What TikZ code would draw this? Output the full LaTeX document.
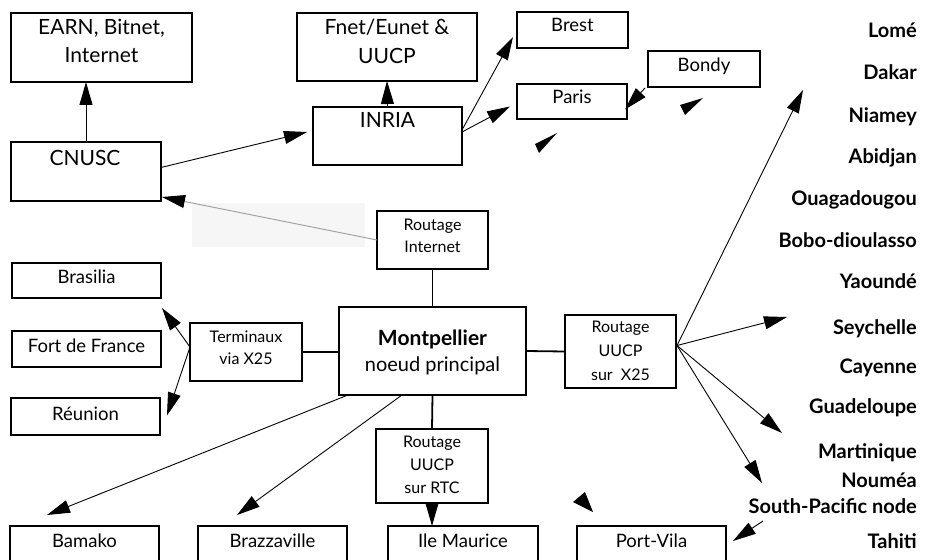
\documentclass[tikz,border=0pt]{standalone}
\usepackage{fontspec}
\setmainfont{Lato}
\usetikzlibrary{arrows.meta,calc}
\begin{document}
\begin{tikzpicture}[x=1pt,y=-1pt,
  box/.style={draw,line width=1.8pt,inner sep=0pt,outer sep=0pt},
  link/.style={line width=1.8pt},
  arr/.style={line width=0.9pt,-{Triangle[length=23pt,width=13pt]}},
  tL/.style={font=\fontsize{21}{25}\selectfont,anchor=base,inner sep=0pt},
  tM/.style={font=\fontsize{18.5}{22}\selectfont,anchor=base,inner sep=0pt},
  tS/.style={font=\fontsize{16}{19}\selectfont,anchor=base,inner sep=0pt},
  city/.style={font=\bfseries\fontsize{20}{24}\selectfont,anchor=base east,inner sep=0pt},
  head/.style={fill=black}
]
\useasboundingbox (0,0) rectangle (925,559);
\clip (0,0) rectangle (925,559);

% faint scan background
\fill[gray!7] (192,203) rectangle (365,247);

% boxes
\node[box,minimum width=181pt,minimum height=69pt] (earn) at (101.5,47.5) {};
\node[box,minimum width=180pt,minimum height=68pt] (fnet) at (387,47) {};
\node[box,minimum width=111pt,minimum height=36pt] (brest) at (572.5,30) {};
\node[box,minimum width=110pt,minimum height=35pt] (paris) at (572,101.5) {};
\node[box,minimum width=112pt,minimum height=36pt] (bondy) at (704,69) {};
\node[box,minimum width=149pt,minimum height=58pt] (inria) at (387.5,136) {};
\node[box,minimum width=150pt,minimum height=59pt] (cnusc) at (86,171.5) {};
\node[box,minimum width=111pt,minimum height=58pt] (rint) at (432.5,240) {};
\node[box,minimum width=187pt,minimum height=88pt] (mont) at (432.5,351) {};
\node[box,minimum width=111pt,minimum height=73pt] (uucp) at (620.5,351.5) {};
\node[box,minimum width=112pt,minimum height=58pt] (term) at (246,352) {};
\node[box,minimum width=149pt,minimum height=35pt] (brasilia) at (86.5,280.5) {};
\node[box,minimum width=149pt,minimum height=36pt] (fdf) at (86.5,349) {};
\node[box,minimum width=149pt,minimum height=37pt] (reunion) at (85.5,416.5) {};
\node[box,minimum width=112pt,minimum height=74pt] (rtc) at (432,466) {};
\node[box,minimum width=149pt,minimum height=50pt] (bamako) at (84.5,551) {};
\node[box,minimum width=149pt,minimum height=50pt] (brazza) at (272.5,551) {};
\node[box,minimum width=150pt,minimum height=50pt] (ilem) at (463,551) {};
\node[box,minimum width=149pt,minimum height=50pt] (portvila) at (651.5,551) {};

% box texts
\node[tL] (earnA) at (101.5,35) {EARN, Bitnet,};
\node[tL] (earnB) at (101.5,63) {Internet};
\node[tL] (fnetA) at (387,35) {Fnet/Eunet \&};
\node[tL] (fnetB) at (387,64) {UUCP};
\node[tM] (brestT) at (572.5,32) {Brest};
\node[tM] (parisT) at (572,103) {Paris};
\node[tM] (bondyT) at (704,72) {Bondy};
\node[tL] (inriaT) at (387.5,128) {INRIA};
\node[tL] (cnuscT) at (85,165) {CNUSC};
\node[tS] (rintA) at (432.5,230) {Routage};
\node[tS] (rintB) at (432.5,252) {Internet};
\node[tL,font=\bfseries\fontsize{21}{25}\selectfont] (montA) at (432.5,345) {Montpellier};
\node[tL,font=\fontsize{20}{24}\selectfont] (montB) at (432.5,371) {noeud principal};
\node[tS] (uucpA) at (620.5,332) {Routage};
\node[tS] (uucpB) at (620.5,356) {UUCP};
\node[tS] (uucpC) at (620.5,380) {sur\ \ X25};
\node[tS] (termA) at (246,342) {Terminaux};
\node[tS] (termB) at (246,364) {via X25};
\node[tM] (brasiliaT) at (86.5,283) {Brasilia};
\node[tM] (fdfT) at (86.5,352) {Fort de France};
\node[tM] (reunionT) at (85.5,420) {Réunion};
\node[tS] (rtcA) at (432,447) {Routage};
\node[tS] (rtcB) at (432,470) {UUCP};
\node[tS] (rtcC) at (432,493) {sur RTC};
\node[tM] (bamakoT) at (84.5,547) {Bamako};
\node[tM] (brazzaT) at (272.5,547) {Brazzaville};
\node[tM] (ilemT) at (463,547) {Ile Maurice};
\node[tM] (portvilaT) at (651.5,547) {Port-Vila};

% city labels
\node[city] (lome) at (917,38) {Lomé};
\node[city] (dakar) at (917,80) {Dakar};
\node[city] (niamey) at (917,122) {Niamey};
\node[city] (abidjan) at (917,163) {Abidjan};
\node[city] (ouaga) at (917,205) {Ouagadougou};
\node[city] (bobo) at (917,247) {Bobo-dioulasso};
\node[city] (yaounde) at (917,288) {Yaoundé};
\node[city] (seychelle) at (917,334) {Seychelle};
\node[city] (cayenne) at (917,373) {Cayenne};
\node[city] (guadeloupe) at (917,413) {Guadeloupe};
\node[city] (martinique) at (917,458) {Martinique};
\node[city] (noumea) at (917,487) {Nouméa};
\node[city] (spnode) at (917,513) {South-Pacific node};
\node[city] (tahiti) at (917,548) {Tahiti};

% connectors
\draw[arr] (cnusc.north) -- (cnusc.north |- earn.south);
\draw[arr] (inria.north) -- (fnet.south);
\draw[arr] ($(cnusc.east)+(0,-4)$) -- ($(inria.west)+(-6,-4)$);
\draw[arr] ($(inria.east)+(0,-6)$) -- ($(brest.west)+(-4,7)$);
\draw[arr] ($(inria.east)+(0,-4)$) -- ($(paris.west)+(-7,5)$);
\draw[arr] ($(bondy.south west)+(-3,1)$) -- ($(paris.east)+(-2,8)$);
\draw[line width=0.9pt,draw=gray!75,-{Triangle[length=23pt,width=13pt,color=black]}]
  (rint.west) -- ($(cnusc.south east)+(1,-4)$);
\draw[link] (rint.south) -- (rint.south |- mont.north);
\draw[link] (term.east) -- (term.east -| mont.west);
\draw[link] (mont.east) -- (uucp.west);
\draw[link] (mont.south) -- (rtc.north);
\draw[arr] (rtc.south) -- (rtc.south |- ilem.north);
\draw[arr] ($(term.west)+(0,-5)$) -- ($(brasilia.south east)+(1,10)$);
\draw[arr] ($(term.west)+(0,-5)$) -- ($(reunion.east)+(7,-1)$);
\draw[arr] ($(mont.south west)+(9,0)$) -- ($(bamako.north west)+(37,-11)$);
\draw[arr] ($(mont.south west)+(63,0)$) -- ($(brazza.north west)+(39,-11)$);

\coordinate (fanS) at ($(uucp.east)+(1,-6)$);
\coordinate (f1) at (803,90);
\coordinate (f2) at (787,317);
\coordinate (f3) at (782,433);
\coordinate (f4) at (762,483);
\draw[arr] (fanS) -- (f1);
\draw[arr] (fanS) -- (f2);
\draw[arr] (fanS) -- (f3);
\draw[arr] (fanS) -- (f4);

\coordinate (spStart) at (763,521);
\draw[arr] (spStart) -- ($(portvila.north east)+(7,15)$);

% stray arrowheads from the scan
\fill[head] (703,98) -- (680,105) -- (685,115) -- cycle;
\fill[head] (557,133) -- (535,144) -- (539,153) -- cycle;
\fill[head] (593,512) -- (585,492) -- (573,502) -- cycle;
\end{tikzpicture}
\end{document}
